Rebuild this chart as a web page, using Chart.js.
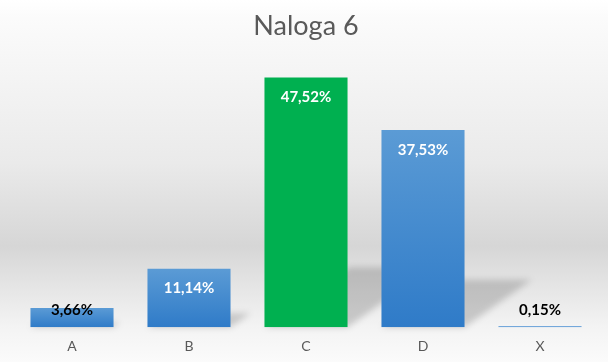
<!DOCTYPE html>
<html>
<head>
<meta charset="utf-8">
<script src="https://cdn.jsdelivr.net/npm/chart.js@4"></script>
<style>
  html, body { margin: 0; padding: 0; background: #fff; }
  #wrap { width: 608px; height: 362px; }
</style>
</head>
<body>
<div id="wrap"><canvas id="chart" width="608" height="362"></canvas></div>
<script>
const categories = ['A', 'B', 'C', 'D', 'X'];
const values = [3.66, 11.14, 47.52, 37.53, 0.15];
const highlight = 'C';

// background like the excel style: light top, grey band, lighter floor
const bgPlugin = {
    id: 'bg',
    beforeDraw(chart) {
        const c = chart.ctx;
        const h = chart.height;
        const g = c.createLinearGradient(0, 0, 0, h);
        g.addColorStop(0, '#ffffff');
        g.addColorStop(0.05, '#fbfbfb');
        g.addColorStop(0.45, '#eaeaea');
        g.addColorStop(0.68, '#d6d6d6');
        g.addColorStop(0.8, '#e6e6e6');
        g.addColorStop(0.9, '#f3f3f3');
        g.addColorStop(1, '#fbfbfb');
        c.save();
        c.fillStyle = g;
        c.fillRect(0, 0, chart.width, h);
        c.restore();
    },
    beforeDatasetsDraw(chart) {
        // perspective shadows behind the bars
        const c = chart.ctx;
        const meta = chart.getDatasetMeta(0);
        c.save();
        c.filter = 'blur(3px)';
        c.fillStyle = 'rgba(0,0,0,0.17)';
        meta.data.forEach(bar => {
            const hh = bar.base - bar.y;
            if (hh < 3) return;
            const l = bar.x - bar.width / 2, r = bar.x + bar.width / 2;
            const dx = hh * 0.34, dy = hh * 0.24;
            c.beginPath();
            c.moveTo(l, bar.base);
            c.lineTo(r, bar.base);
            c.lineTo(r + dx, bar.base - dy);
            c.lineTo(l + dx, bar.base - dy);
            c.closePath();
            c.fill();
        });
        c.restore();
    },
    afterDatasetsDraw(chart) {
        const c = chart.ctx;
        const meta = chart.getDatasetMeta(0);
        c.save();
        c.font = 'bold 15px Lato';
        c.textAlign = 'center';
        c.textBaseline = 'middle';
        meta.data.forEach((bar, i) => {
            const hh = bar.base - bar.y;
            const y = Math.min(bar.y + 20, bar.base - 17);
            c.fillStyle = hh > 40 ? '#ffffff' : '#000000';
            c.fillText(values[i].toFixed(2).replace('.', ',') + '%', bar.x, y);
        });
        c.restore();
    }
};

function barColor(ctx) {
    const chart = ctx.chart;
    if (categories[ctx.dataIndex] === highlight) return '#00b050';
    if (!chart.chartArea) return '#4a8fd3';
    const ys = chart.scales.y;
    const top = ys.getPixelForValue(values[ctx.dataIndex]);
    const base = ys.getPixelForValue(0);
    if (base - top < 2) return '#4a8fd3';
    const g = chart.ctx.createLinearGradient(0, top, 0, base);
    g.addColorStop(0, '#5b9bd5');
    g.addColorStop(1, '#2f7bc8');
    return g;
}

let ctx = document.getElementById('chart').getContext('2d');
let chart = new Chart(ctx, {
    type: 'bar',
    data: {
        labels: categories,
        datasets: [{
            data: values,
            backgroundColor: barColor,
            borderWidth: 0,
            barPercentage: 0.71,
            categoryPercentage: 1,
            minBarLength: 1
        }]
    },
    options: {
        responsive: false,
        animation: false,
        layout: { padding: { left: 13.5, right: 9.5, bottom: -4, top: 0 } },
        plugins: {
            legend: { display: false },
            tooltip: { enabled: false },
            title: {
                display: true,
                text: 'Naloga 6',
                color: '#595959',
                font: { family: 'Lato', size: 27, weight: 'normal' },
                padding: { top: 10, bottom: 22 }
            }
        },
        scales: {
            y: {
                display: false,
                min: 0,
                max: 50
            },
            x: {
                grid: { display: false, drawTicks: false },
                border: { display: false },
                ticks: {
                    color: '#595959',
                    font: { family: 'Lato', size: 14 },
                    padding: 11
                }
            }
        }
    },
    plugins: [bgPlugin]
});
</script>
</body>
</html>
